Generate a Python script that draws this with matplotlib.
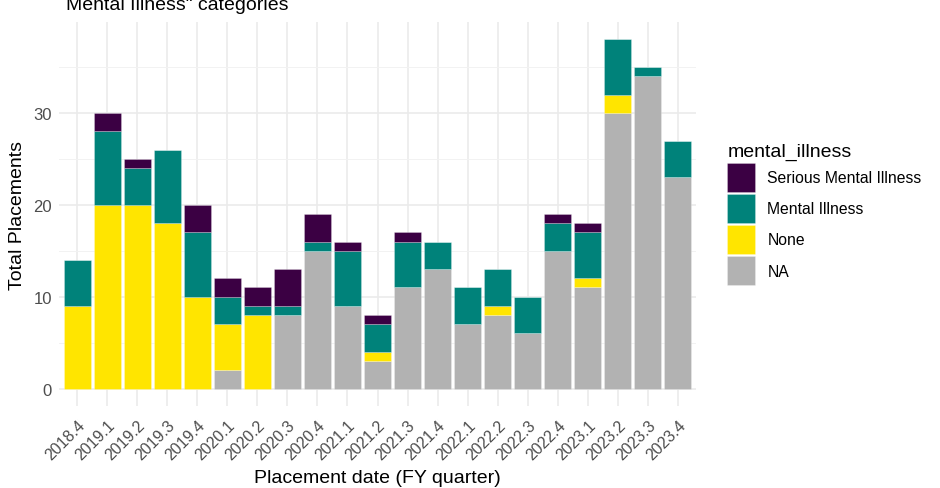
import matplotlib
matplotlib.use("Agg")
import matplotlib.pyplot as plt
import numpy as np
from matplotlib.patches import Patch

quarters = ["2018.4", "2019.1", "2019.2", "2019.3", "2019.4", "2020.1", "2020.2",
            "2020.3", "2020.4", "2021.1", "2021.2", "2021.3", "2021.4", "2022.1",
            "2022.2", "2022.3", "2022.4", "2023.1", "2023.2", "2023.3", "2023.4"]
na_vals   = [0, 0, 0, 0, 0, 2, 0, 8, 15, 9, 3, 11, 13, 7, 8, 6, 15, 11, 30, 34, 23]
none_vals = [9, 20, 20, 18, 10, 5, 8, 0, 0, 0, 1, 0, 0, 0, 1, 0, 0, 1, 2, 0, 0]
mi_vals   = [5, 8, 4, 8, 7, 3, 1, 1, 1, 6, 3, 5, 3, 4, 4, 4, 3, 5, 6, 1, 4]
smi_vals  = [0, 2, 1, 0, 3, 2, 2, 4, 3, 1, 1, 1, 0, 0, 0, 0, 1, 1, 0, 0, 0]

categories = ["Serious Mental Illness", "Mental Illness", "None", "NA"]
colors = {"Serious Mental Illness": "#3B0043", "Mental Illness": "#00827A",
          "None": "#FFE500", "NA": "#B2B2B2"}

plt.rcParams['font.family'] = ['Liberation Sans', 'DejaVu Sans']

W, H = 940, 489
fig = plt.figure(figsize=(W / 100, H / 100), dpi=100)
px_l, px_r, px_t, px_b = 59, 696, 23, 407
ax = fig.add_axes([px_l / W, 1 - px_b / H, (px_r - px_l) / W, (px_b - px_t) / H])

x = np.arange(len(quarters))
bottom = np.zeros(len(quarters))
stack = [("NA", na_vals), ("None", none_vals), ("Mental Illness", mi_vals),
         ("Serious Mental Illness", smi_vals)]
for name, vals in stack:
    v = np.array(vals, dtype=float)
    ax.bar(x, v, bottom=bottom, width=0.9, color=colors[name],
           edgecolor=(1, 1, 1, 0.35), linewidth=0.5, zorder=3)
    bottom += v

totals = bottom
ymax = totals.max()
ax.set_ylim(-0.05 * ymax, ymax * 1.05)
ax.set_xlim(-0.6, len(quarters) - 1 + 0.6)

ax.set_yticks([0, 10, 20, 30])
ax.set_yticks([5, 15, 25, 35], minor=True)
ax.set_xticks(x)
ax.set_xticklabels(quarters, rotation=45, ha='right', va='top',
                   rotation_mode='anchor', fontsize=11.5, color='#4D4D4D')
ax.tick_params(axis='y', labelsize=12, labelcolor='#4D4D4D', length=0, pad=5)
ax.tick_params(axis='y', which='minor', length=0)
ax.tick_params(axis='x', length=0, pad=8)

ax.grid(True, which='major', color='#EBEBEB', linewidth=1.2, zorder=0)
ax.grid(True, which='minor', axis='y', color='#F2F2F2', linewidth=0.7, zorder=0)
ax.set_axisbelow(True)
for s in ax.spines.values():
    s.set_visible(False)

ax.set_xlabel("Placement date (FY quarter)", fontsize=14, color='black', labelpad=5)
ax.set_ylabel("Total Placements", fontsize=14, color='black', labelpad=5)

fig.text(66 / W, 1 - 10 / H, 'Mental Illness" categories', fontsize=14,
         ha='left', va='baseline', color='black')

handles = [Patch(facecolor=colors[c], edgecolor=(1, 1, 1, 0.35), linewidth=0.5)
           for c in categories]
leg = fig.legend(handles, categories, title="mental_illness",
                 loc='upper left', bbox_to_anchor=(721 / W, 1 - 138 / H),
                 frameon=False, fontsize=11.3, title_fontsize=14,
                 handlelength=1.75, handleheight=2.45, handletextpad=0.8,
                 labelspacing=0.15, borderaxespad=0)
leg._legend_box.align = "left"

fig.savefig("out.png", dpi=100)
